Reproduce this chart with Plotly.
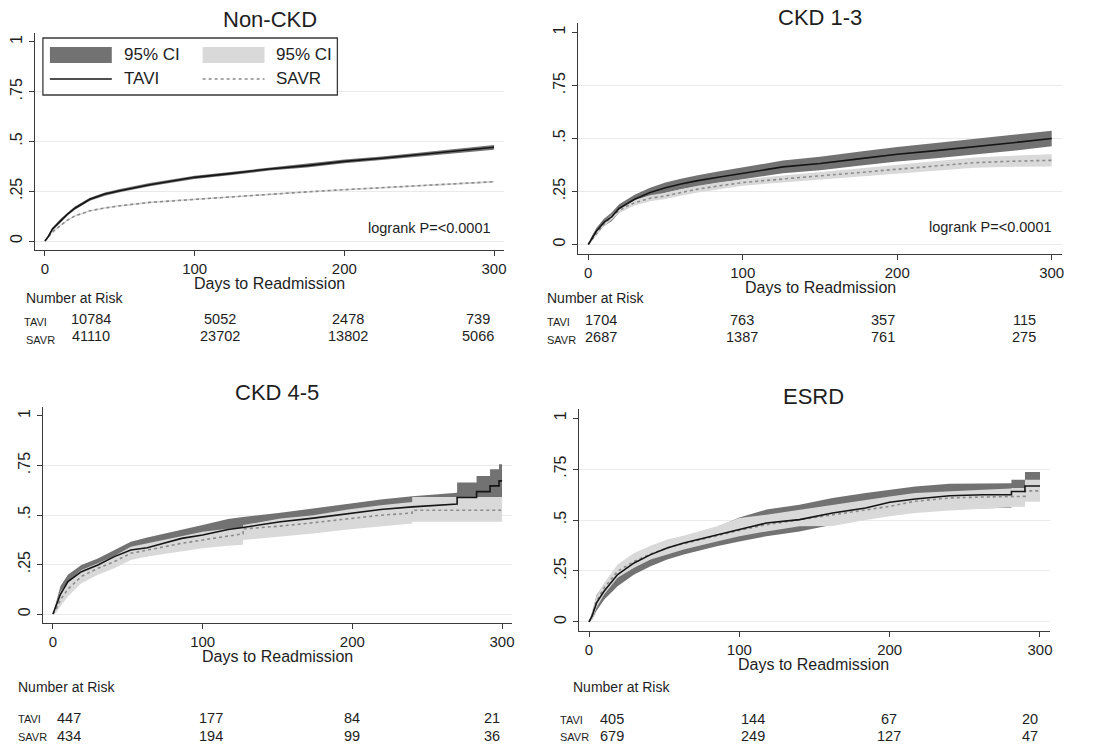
import plotly.graph_objects as go

W, H = 1094, 748

# ---------------- text / ticks ----------------
panel_titles = ["Non-CKD", "CKD 1-3", "CKD 4-5", "ESRD"]
x_tickvals = [0, 100, 200, 300]
y_tickvals = [0, 0.25, 0.5, 0.75, 1]
y_ticktext = ["0", ".25", ".5", ".75", "1"]
grid_vals = [0, 0.25, 0.5, 0.75]
x_title = "Days to Readmission"
risk_title = "Number at Risk"
risk_groups = ["TAVI", "SAVR"]
logrank_text = "logrank P=<0.0001"
legend_labels = ["95% CI", "95% CI", "TAVI", "SAVR"]

# ---------------- Non-CKD ----------------
days1 = [0, 2, 5, 10, 15, 20, 30, 40, 50, 70, 100, 125, 150, 175, 200, 225, 250, 275, 300]
tavi1 = [0, 0.02, 0.06, 0.10, 0.135, 0.165, 0.21, 0.236, 0.253, 0.283, 0.32, 0.34, 0.362, 0.379, 0.40, 0.416, 0.434, 0.451, 0.471]
tavi1_hi = [0, 0.026, 0.067, 0.108, 0.143, 0.173, 0.218, 0.244, 0.261, 0.291, 0.328, 0.348, 0.370, 0.388, 0.409, 0.425, 0.444, 0.463, 0.483]
tavi1_lo = [0, 0.014, 0.053, 0.092, 0.127, 0.157, 0.202, 0.228, 0.245, 0.275, 0.312, 0.332, 0.354, 0.370, 0.391, 0.407, 0.424, 0.439, 0.459]
savr1 = [0, 0.018, 0.045, 0.076, 0.105, 0.126, 0.152, 0.166, 0.177, 0.194, 0.21, 0.224, 0.236, 0.247, 0.258, 0.268, 0.278, 0.288, 0.298]
savr1_hi = [0, 0.021, 0.049, 0.080, 0.109, 0.130, 0.156, 0.170, 0.181, 0.198, 0.214, 0.228, 0.240, 0.251, 0.262, 0.272, 0.282, 0.292, 0.303]
savr1_lo = [0, 0.015, 0.041, 0.072, 0.101, 0.122, 0.148, 0.162, 0.173, 0.190, 0.206, 0.220, 0.232, 0.243, 0.254, 0.264, 0.274, 0.284, 0.293]

# ---------------- CKD 1-3 ----------------
days2 = [0, 2, 5, 10, 15, 20, 25, 30, 40, 50, 60, 70, 85, 100, 115, 126, 150, 175, 200, 225, 250, 275, 300]
tavi2 = [0, 0.025, 0.06, 0.103, 0.13, 0.17, 0.19, 0.213, 0.245, 0.268, 0.285, 0.30, 0.318, 0.334, 0.353, 0.366, 0.382, 0.404, 0.426, 0.443, 0.46, 0.48, 0.50]
tavi2_hi = [0, 0.035, 0.075, 0.12, 0.15, 0.19, 0.212, 0.235, 0.268, 0.292, 0.31, 0.326, 0.345, 0.362, 0.382, 0.396, 0.414, 0.437, 0.46, 0.479, 0.497, 0.518, 0.537]
tavi2_lo = [0, 0.015, 0.045, 0.086, 0.11, 0.15, 0.168, 0.191, 0.222, 0.244, 0.26, 0.274, 0.291, 0.306, 0.324, 0.336, 0.35, 0.371, 0.392, 0.407, 0.423, 0.442, 0.463]
savr2 = [0, 0.02, 0.05, 0.095, 0.128, 0.16, 0.18, 0.197, 0.218, 0.229, 0.245, 0.26, 0.277, 0.292, 0.302, 0.309, 0.323, 0.339, 0.355, 0.37, 0.386, 0.393, 0.397]
savr2_hi = [0, 0.027, 0.06, 0.105, 0.14, 0.172, 0.193, 0.21, 0.232, 0.244, 0.26, 0.276, 0.294, 0.307, 0.318, 0.326, 0.341, 0.358, 0.376, 0.392, 0.41, 0.419, 0.426]
savr2_lo = [0, 0.013, 0.04, 0.085, 0.116, 0.148, 0.167, 0.184, 0.204, 0.214, 0.23, 0.244, 0.26, 0.277, 0.286, 0.292, 0.305, 0.32, 0.334, 0.348, 0.362, 0.367, 0.368]

# ---------------- CKD 4-5 ----------------
days3 = [0, 2, 5, 10, 19, 30, 41, 52, 63, 74, 86, 100, 117, 127, 127, 152, 174, 197, 219, 240, 240, 270, 270, 283, 283, 292, 292, 298, 298, 300]
tavi3 = [0, 0.04, 0.10, 0.164, 0.214, 0.248, 0.29, 0.323, 0.335, 0.357, 0.382, 0.399, 0.427, 0.437, 0.437, 0.466, 0.484, 0.508, 0.528, 0.541, 0.541, 0.555, 0.588, 0.588, 0.618, 0.618, 0.647, 0.647, 0.672, 0.672]
tavi3_hi = [0, 0.055, 0.14, 0.198, 0.248, 0.281, 0.323, 0.365, 0.387, 0.405, 0.427, 0.449, 0.48, 0.49, 0.49, 0.511, 0.533, 0.558, 0.578, 0.595, 0.595, 0.612, 0.664, 0.664, 0.697, 0.697, 0.731, 0.731, 0.756, 0.756]
tavi3_lo = [0, 0.025, 0.065, 0.13, 0.18, 0.215, 0.257, 0.285, 0.292, 0.31, 0.336, 0.35, 0.375, 0.385, 0.385, 0.42, 0.436, 0.46, 0.478, 0.488, 0.488, 0.5, 0.53, 0.53, 0.555, 0.555, 0.57, 0.57, 0.59, 0.59]
savr3 = [0, 0.022, 0.072, 0.126, 0.19, 0.231, 0.265, 0.307, 0.323, 0.34, 0.357, 0.374, 0.395, 0.405, 0.43, 0.444, 0.461, 0.482, 0.499, 0.51, 0.524, 0.524, 0.524, 0.524, 0.524, 0.524, 0.524, 0.524, 0.524, 0.524]
savr3_hi = [0, 0.047, 0.114, 0.164, 0.223, 0.256, 0.293, 0.34, 0.357, 0.375, 0.394, 0.415, 0.43, 0.435, 0.449, 0.482, 0.499, 0.528, 0.549, 0.565, 0.591, 0.591, 0.591, 0.591, 0.591, 0.591, 0.591, 0.591, 0.591, 0.591]
savr3_lo = [0, 0.005, 0.04, 0.089, 0.156, 0.198, 0.231, 0.273, 0.29, 0.303, 0.315, 0.332, 0.345, 0.35, 0.374, 0.39, 0.407, 0.427, 0.444, 0.457, 0.466, 0.466, 0.466, 0.466, 0.466, 0.466, 0.466, 0.466, 0.466, 0.466]

# ---------------- ESRD ----------------
days4 = [0, 2, 5, 10, 19, 30, 41, 52, 63, 85, 100, 118, 140, 162, 184, 200, 217, 240, 262, 281, 281, 290, 290, 300]
tavi4 = [0, 0.028, 0.093, 0.15, 0.232, 0.289, 0.33, 0.363, 0.387, 0.428, 0.453, 0.485, 0.502, 0.534, 0.559, 0.587, 0.603, 0.619, 0.624, 0.624, 0.64, 0.64, 0.667, 0.667]
tavi4_hi = [0, 0.045, 0.13, 0.185, 0.27, 0.33, 0.37, 0.40, 0.42, 0.465, 0.512, 0.551, 0.575, 0.608, 0.632, 0.649, 0.665, 0.678, 0.681, 0.681, 0.698, 0.698, 0.736, 0.736]
tavi4_lo = [0, 0.01, 0.055, 0.109, 0.175, 0.232, 0.273, 0.306, 0.33, 0.371, 0.395, 0.42, 0.444, 0.477, 0.51, 0.526, 0.542, 0.554, 0.559, 0.56, 0.575, 0.575, 0.6, 0.6]
savr4 = [0, 0.03, 0.10, 0.167, 0.248, 0.297, 0.333, 0.363, 0.384, 0.423, 0.449, 0.477, 0.502, 0.526, 0.551, 0.567, 0.592, 0.608, 0.613, 0.616, 0.616, 0.616, 0.643, 0.643]
savr4_hi = [0, 0.052, 0.126, 0.191, 0.281, 0.338, 0.374, 0.404, 0.423, 0.469, 0.51, 0.526, 0.55, 0.575, 0.6, 0.615, 0.632, 0.642, 0.649, 0.655, 0.657, 0.657, 0.698, 0.698]
savr4_lo = [0, 0.01, 0.069, 0.134, 0.216, 0.265, 0.306, 0.33, 0.355, 0.395, 0.42, 0.444, 0.469, 0.47, 0.50, 0.518, 0.534, 0.547, 0.554, 0.562, 0.565, 0.565, 0.59, 0.59]

# ---------------- number at risk ----------------
risk_tavi = [[10784, 5052, 2478, 739], [1704, 763, 357, 115], [447, 177, 84, 21], [405, 144, 67, 20]]
risk_savr = [[41110, 23702, 13802, 5066], [2687, 1387, 761, 275], [434, 194, 99, 36], [679, 249, 127, 47]]

# ---------------- styling / layout geometry (pixels) ----------------
DARK = "#727272"
LIGHT = "#d9d9d9"
TAVI_COLOR = "#151515"
SAVR_COLOR = "#8c8c8c"
AXIS_COLOR = "#3a3a3a"
TEXT_COLOR = "#1e1e1e"
FONT = "Liberation Sans, Arial, sans-serif"

# (left, right, top, bottom) of each plot area
panel_px = [(35, 505, 33, 250), (579, 1064, 23, 254), (43, 513, 407, 623), (580, 1052, 409, 631)]
title_px = [(270, 20), (822, 18), (278, 392), (815, 396)]
xtitle_px = [(270, 283), (822, 287), (278, 656), (815, 664)]
logrank_px = [(494, 228), (1056, 227)]
risk_head_px = [(25, 298), (547, 298), (17, 687), (573, 687)]
risk_label_px = [(23, 322, 25, 340), (547, 322, 547, 340), (17, 719, 17, 737), (560, 720, 560, 737)]
risk_row_y = [(319, 336), (320, 337), (718, 736), (719, 736)]
risk_num_x = [[91, 220, 349, 479], [602, 743, 885, 1026], [69, 211, 353, 493], [613, 754, 891, 1032]]


def fx(px):
    return px / W


def fy(py):
    return 1 - py / H


panels = [
    (days1, tavi1, tavi1_lo, tavi1_hi, savr1, savr1_lo, savr1_hi),
    (days2, tavi2, tavi2_lo, tavi2_hi, savr2, savr2_lo, savr2_hi),
    (days3, tavi3, tavi3_lo, tavi3_hi, savr3, savr3_lo, savr3_hi),
    (days4, tavi4, tavi4_lo, tavi4_hi, savr4, savr4_lo, savr4_hi),
]

fig = go.Figure()
layout = dict(
    width=W, height=H,
    margin=dict(l=0, r=0, t=0, b=0),
    paper_bgcolor="white", plot_bgcolor="white",
    showlegend=False,
    font=dict(family=FONT, color=TEXT_COLOR),
)
annotations = []
shapes = []

for i, (d, t, tlo, thi, s, slo, shi) in enumerate(panels):
    sfx = "" if i == 0 else str(i + 1)
    xa, ya = "x" + sfx, "y" + sfx
    common = dict(xaxis=xa, yaxis=ya, mode="lines", hoverinfo="skip", showlegend=False)
    fig.add_trace(go.Scatter(x=d, y=tlo, line=dict(width=0, color=DARK), **common))
    fig.add_trace(go.Scatter(x=d, y=thi, line=dict(width=0, color=DARK), fill="tonexty", fillcolor=DARK, **common))
    fig.add_trace(go.Scatter(x=d, y=slo, line=dict(width=0, color=LIGHT), **common))
    fig.add_trace(go.Scatter(x=d, y=shi, line=dict(width=0, color=LIGHT), fill="tonexty", fillcolor=LIGHT, **common))
    fig.add_trace(go.Scatter(x=d, y=s, name="SAVR", line=dict(width=1.6, color=SAVR_COLOR, dash="dot"), **common))
    fig.add_trace(go.Scatter(x=d, y=t, name="TAVI", line=dict(width=1.6, color=TAVI_COLOR), **common))

    l, r, top, bot = panel_px[i]
    layout["xaxis" + sfx] = dict(
        domain=[fx(l), fx(r)], anchor=ya, range=[-6.7, 306.7],
        tickmode="array", tickvals=x_tickvals, ticks="outside", ticklen=5, tickwidth=1.2,
        tickcolor=AXIS_COLOR, showline=True, linecolor=AXIS_COLOR, linewidth=1.3,
        showgrid=False, zeroline=False, tickfont=dict(size=15, family=FONT, color=TEXT_COLOR),
        fixedrange=True,
    )
    layout["yaxis" + sfx] = dict(
        domain=[fy(bot), fy(top)], anchor=xa, range=[-0.045, 1.045],
        tickmode="array", tickvals=y_tickvals, ticktext=y_ticktext, tickangle=-90,
        ticks="outside", ticklen=5, tickwidth=1.2, tickcolor=AXIS_COLOR,
        showline=True, linecolor=AXIS_COLOR, linewidth=1.3,
        showgrid=False, zeroline=False, tickfont=dict(size=16, family=FONT, color=TEXT_COLOR),
        minor=dict(tickmode="array", tickvals=grid_vals, showgrid=True, gridcolor="#e9e9e9", gridwidth=1, ticks=""),
        fixedrange=True,
    )

    # panel title
    tx, ty = title_px[i]
    annotations.append(dict(text=panel_titles[i], x=fx(tx), y=fy(ty), xref="paper", yref="paper",
                            xanchor="center", yanchor="middle", showarrow=False,
                            font=dict(size=22, family=FONT, color=TEXT_COLOR)))
    # x axis title
    ax_, ay_ = xtitle_px[i]
    annotations.append(dict(text=x_title, x=fx(ax_), y=fy(ay_), xref="paper", yref="paper",
                            xanchor="center", yanchor="middle", showarrow=False,
                            font=dict(size=16, family=FONT, color=TEXT_COLOR)))
    # number at risk
    hx, hy = risk_head_px[i]
    annotations.append(dict(text=risk_title, x=fx(hx), y=fy(hy), xref="paper", yref="paper",
                            xanchor="left", yanchor="middle", showarrow=False, borderpad=0,
                            font=dict(size=14, family=FONT, color=TEXT_COLOR)))
    lx1, ly1, lx2, ly2 = risk_label_px[i]
    for lab, lx, ly in ((risk_groups[0], lx1, ly1), (risk_groups[1], lx2, ly2)):
        annotations.append(dict(text=lab, x=fx(lx), y=fy(ly), xref="paper", yref="paper",
                                xanchor="left", yanchor="middle", showarrow=False, borderpad=0,
                                font=dict(size=11, family=FONT, color=TEXT_COLOR)))
    r1, r2 = risk_row_y[i]
    for vals, ry in ((risk_tavi[i], r1), (risk_savr[i], r2)):
        for v, nx in zip(vals, risk_num_x[i]):
            annotations.append(dict(text=str(v), x=fx(nx), y=fy(ry), xref="paper", yref="paper",
                                    xanchor="center", yanchor="middle", showarrow=False, borderpad=0,
                                    font=dict(size=14.5, family=FONT, color=TEXT_COLOR)))

# logrank annotations (top two panels)
for (lx, ly) in logrank_px:
    annotations.append(dict(text=logrank_text, x=fx(lx), y=fy(ly), xref="paper", yref="paper",
                            xanchor="right", yanchor="middle", showarrow=False,
                            font=dict(size=14.5, family=FONT, color=TEXT_COLOR)))

# legend box in the first panel
shapes.append(dict(type="rect", xref="paper", yref="paper", x0=fx(43), x1=fx(338), y0=fy(95), y1=fy(38),
                   line=dict(color=AXIS_COLOR, width=1.3), fillcolor="white", layer="above"))
shapes.append(dict(type="rect", xref="paper", yref="paper", x0=fx(50), x1=fx(112), y0=fy(63), y1=fy(47),
                   line=dict(width=0), fillcolor=DARK, layer="above"))
shapes.append(dict(type="rect", xref="paper", yref="paper", x0=fx(203), x1=fx(265), y0=fy(63), y1=fy(47),
                   line=dict(width=0), fillcolor=LIGHT, layer="above"))
shapes.append(dict(type="line", xref="paper", yref="paper", x0=fx(50), x1=fx(112), y0=fy(79), y1=fy(79),
                   line=dict(color=TAVI_COLOR, width=1.6), layer="above"))
shapes.append(dict(type="line", xref="paper", yref="paper", x0=fx(203), x1=fx(265), y0=fy(79), y1=fy(79),
                   line=dict(color=SAVR_COLOR, width=1.6, dash="dot"), layer="above"))
for lab, lx, ly in ((legend_labels[0], 122, 55), (legend_labels[1], 275, 55),
                    (legend_labels[2], 122, 79), (legend_labels[3], 275, 79)):
    annotations.append(dict(text=lab, x=fx(lx), y=fy(ly), xref="paper", yref="paper",
                            xanchor="left", yanchor="middle", showarrow=False,
                            font=dict(size=17, family=FONT, color=TEXT_COLOR)))

layout["annotations"] = annotations
layout["shapes"] = shapes
fig.update_layout(**layout)
# remove the browser's default 8px body margin so the 1094x748 figure fills the window
fig.write_html("out.html", config={"displayModeBar": False},
               post_script="document.body.style.margin='0';")
